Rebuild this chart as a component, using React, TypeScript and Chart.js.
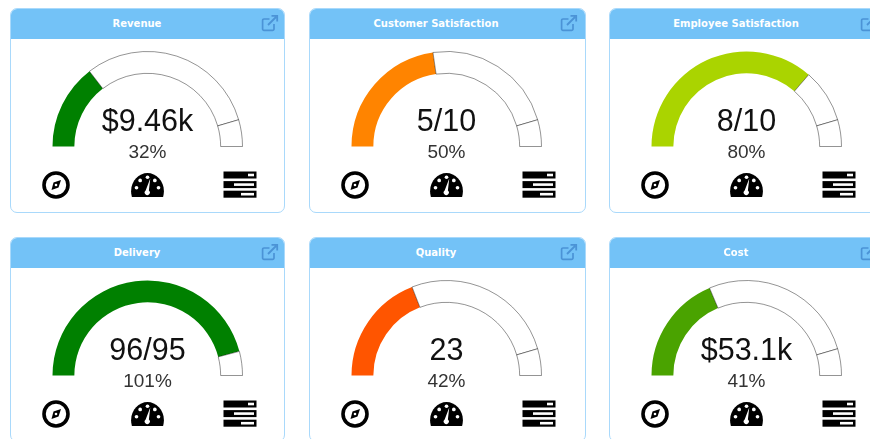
import React, { useEffect, useRef } from "react";
import { Chart, registerables } from "chart.js";

Chart.register(...registerables);

const titles = ["Revenue", "Customer Satisfaction", "Employee Satisfaction", "Delivery", "Quality", "Cost"];
const values = ["$9.46k", "5/10", "8/10", "96/95", "23", "$53.1k"];
const percents = [32, 50, 80, 101, 42, 41];
const colors = ["#008000", "#ff8400", "#aad400", "#008000", "#ff5500", "#4aa300"];
const target = 100;
const gaugeMax = 110;

const cardLefts = [10, 309, 609];
const cardWidths = [275, 277, 290];
const cardTops = [8, 237];

const FONT = '"Liberation Sans", Arial, sans-serif';

function Gauge({ percent, color }: { percent: number; color: string }) {
  const ref = useRef<HTMLCanvasElement>(null);
  useEffect(() => {
    const data =
      percent < target
        ? [percent, target - percent, gaugeMax - target]
        : [percent, gaugeMax - percent];
    const chart = new Chart(ref.current!, {
      type: "doughnut",
      data: {
        labels: data.map((_, i) => String(i)),
        datasets: [
          {
            data,
            backgroundColor: data.map((_, i) => (i === 0 ? color : "#ffffff")),
            borderColor: data.map((_, i) => (i === 0 ? color : "rgba(0,0,0,0.42)")),
            borderWidth: data.map((_, i) => (i === 0 ? 0 : 1)),
          },
        ],
      },
      options: {
        animation: false,
        responsive: false,
        rotation: -90,
        circumference: 180,
        cutout: "77%",
        layout: { padding: 0 },
        plugins: { legend: { display: false }, tooltip: { enabled: false } },
      },
    });
    return () => chart.destroy();
  }, [percent, color]);
  return <canvas ref={ref} width={191} height={96} style={{ display: "block" }} />;
}

function Compass() {
  return (
    <svg width="30" height="30" viewBox="0 0 30 30" style={{ position: "absolute", left: 30, top: 161 }}>
      <circle cx="15" cy="15" r="12" fill="none" stroke="#000" strokeWidth="3.6" />
      <path d="M20 10 L17.5 17.5 L10.5 20 L12.5 12.5 Z" fill="#000" />
      <circle cx="15" cy="15" r="1.3" fill="#fff" />
    </svg>
  );
}

function Dial() {
  return (
    <svg width="33" height="28" viewBox="0 0 36 30" style={{ position: "absolute", left: 120, top: 162 }}>
      <path d="M1 28 C-3 14 7 2 18 2 C29 2 39 14 35 28 Z" fill="#000" />
      {[[6, 18], [10, 10], [18, 6.5], [26, 10], [30, 18]].map(([x, y], i) => (
        <circle key={i} cx={x} cy={y} r="2" fill="#fff" />
      ))}
      <path d="M21 8 L19.5 21 A2.8 2.8 0 1 1 16 21 Z" fill="#fff" />
    </svg>
  );
}

function Bars() {
  const slots = [[25, 8], [11, 22], [18, 15]];
  return (
    <svg width="34" height="28" viewBox="0 0 34 28" style={{ position: "absolute", left: 212, top: 162 }}>
      {slots.map(([x, w], i) => (
        <g key={i}>
          <rect x="0.5" y={0.5 + i * 9.6} width="33" height="7" fill="#000" />
          <rect x={x} y={2.7 + i * 9.6} width={w - 2} height="2.6" fill="#fff" />
        </g>
      ))}
    </svg>
  );
}

function LinkIcon() {
  return (
    <svg width="18" height="18" viewBox="0 0 18 18" style={{ position: "absolute", right: 0, top: 0 }}>
      <path d="M13 10 V15 A1.4 1.4 0 0 1 11.6 16.4 H3 A1.4 1.4 0 0 1 1.6 15 V6.4 A1.4 1.4 0 0 1 3 5 H8.5" fill="none" stroke="#4b93d6" strokeWidth="1.7" />
      <path d="M7 11 L15 3 M10.5 1.8 H16.2 V7.5" fill="none" stroke="#4b93d6" strokeWidth="1.8" />
    </svg>
  );
}

function Card({ index }: { index: number }) {
  const col = index % 3;
  const row = Math.floor(index / 3);
  return (
    <div
      style={{
        position: "absolute",
        left: cardLefts[col],
        top: cardTops[row],
        width: cardWidths[col],
        height: 205,
        boxSizing: "border-box",
        border: "1px solid #a9d9fb",
        borderRadius: 7,
        background: "#fff",
        overflow: "hidden",
      }}
    >
      <div style={{ position: "absolute", left: 0, top: 0, width: "100%", height: 30, background: "#73c2f7" }} />
      <div
        style={{
          position: "absolute",
          left: 0,
          top: 0,
          width: 252,
          height: 30,
          color: "#fff",
          fontFamily: '"DejaVu Sans", sans-serif',
          fontWeight: "bold",
          fontSize: 10,
          lineHeight: "30px",
          textAlign: "center",
        }}
      >
        {titles[index]}
      </div>
      <div style={{ position: "absolute", left: 250, top: 5, width: 18, height: 18 }}>
        <LinkIcon />
      </div>
      <div style={{ position: "absolute", left: 41, top: 42 }}>
        <Gauge percent={percents[index]} color={colors[index]} />
      </div>
      <div style={{ position: "absolute", left: 0, width: 273, top: 94, textAlign: "center", fontFamily: FONT, fontSize: 30.5, lineHeight: "34px", color: "#111" }}>
        {values[index]}
      </div>
      <div style={{ position: "absolute", left: 0, width: 273, top: 133, textAlign: "center", fontFamily: FONT, fontSize: 19, lineHeight: "20px", color: "#333" }}>
        {percents[index]}%
      </div>
      <Compass />
      <Dial />
      <Bars />
    </div>
  );
}

export default function App() {
  return (
    <div style={{ position: "fixed", left: 0, top: 0, width: 870, height: 439, overflow: "hidden", background: "#fff", filter: "blur(0.5px)" }}>
      {titles.map((_, i) => (
        <Card key={i} index={i} />
      ))}
    </div>
  );
}
